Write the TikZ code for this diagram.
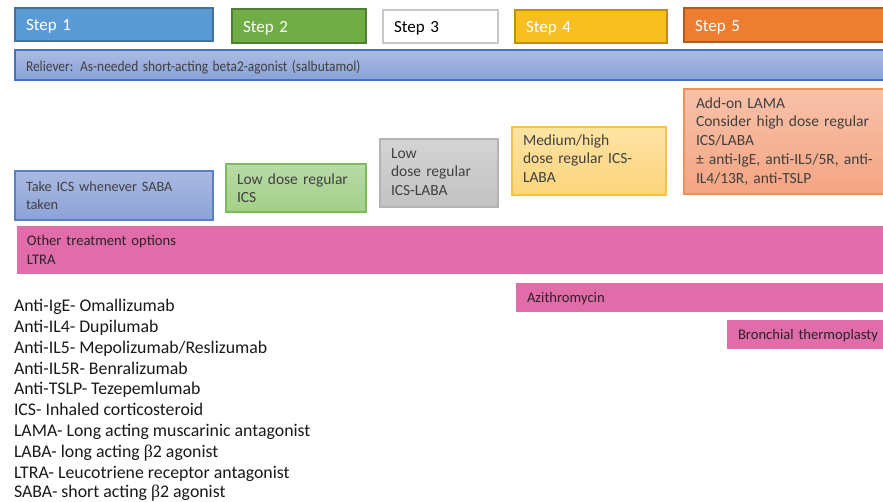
\documentclass[tikz,border=0pt]{standalone}
\usepackage{fontspec}
\setmainfont{Carlito}
\newfontfamily\greekfont{Liberation Serif}
\definecolor{txtgray}{HTML}{404040}
\definecolor{pinkfill}{HTML}{E06CAA}
\definecolor{pinktxt}{HTML}{2E2228}
\definecolor{sAfill}{HTML}{5B9BD5}\definecolor{sAline}{HTML}{41719C}
\definecolor{sBfill}{HTML}{70AD47}\definecolor{sBline}{HTML}{507E32}
\definecolor{sCline}{HTML}{C8C8C8}
\definecolor{sDfill}{HTML}{F7BF1F}\definecolor{sDline}{HTML}{BF9000}
\definecolor{sEfill}{HTML}{ED7D31}\definecolor{sEline}{HTML}{AE5A21}
\definecolor{relTop}{HTML}{ACBBE3}\definecolor{relBot}{HTML}{88A1D7}\definecolor{relLine}{HTML}{4472C4}
\definecolor{cAtop}{HTML}{AAB9E2}\definecolor{cAbot}{HTML}{8CA3D7}\definecolor{cAline}{HTML}{5A80C8}
\definecolor{cBtop}{HTML}{B9DBA6}\definecolor{cBbot}{HTML}{A2CF89}\definecolor{cBline}{HTML}{7DBA5A}
\definecolor{cCtop}{HTML}{D4D4D4}\definecolor{cCbot}{HTML}{C2C2C2}\definecolor{cCline}{HTML}{B4B4B4}
\definecolor{cDtop}{HTML}{FEE4A5}\definecolor{cDbot}{HTML}{FDD47A}\definecolor{cDline}{HTML}{F9C33C}
\definecolor{cEtop}{HTML}{F8C2AA}\definecolor{cEbot}{HTML}{F4A482}\definecolor{cEline}{HTML}{F08F57}
% extra depth on a last line, to lift a text block inside its box
\newcommand{\lowdepth}[1]{\rule[-#1]{0pt}{#1}}
\begin{document}
\begin{tikzpicture}[x=1pt,y=-1pt,
  every node/.style={inner sep=0pt, outer sep=0pt},
  box/.style={rectangle, anchor=north west, align=left, inner xsep=11pt,
    line width=1.2pt, font=\fontsize{15.5}{18.6}\selectfont, text=txtgray},
  stepbox/.style={box, font=\fontsize{17}{20}\selectfont, text=white,
    text height=12.5pt, text depth=0pt},
  pinkbox/.style={box, fill=pinkfill, draw=none, text=pinktxt},
  legend/.style={anchor=base west, font=\fontsize{17.8}{20}\selectfont, text=black!90}]
\path[use as bounding box] (0,0) rectangle (883,501);
\begin{scope}
\clip (0,0) rectangle (883,501);
% step headers
\node[stepbox, fill=sAfill, draw=sAline, minimum width=198pt, minimum height=33pt, text width=176pt] (s1) at (15,8) {Step 1};
\node[stepbox, fill=sBfill, draw=sBline, minimum width=134pt, minimum height=34pt, text width=112pt] (s2) at (232,9) {Step 2};
\node[stepbox, fill=white, draw=sCline, line width=1.6pt, text=black, minimum width=115pt, minimum height=33pt, text width=93pt] (s3) at (383,10) {Step 3};
\node[stepbox, fill=sDfill, draw=sDline, minimum width=152pt, minimum height=33pt, text width=130pt] (s4) at (515,10) {Step 4};
\node[stepbox, fill=sEfill, draw=sEline, minimum width=210pt, minimum height=34pt, text width=188pt] (s5) at (684,8) {Step 5};
% reliever bar
\node[box, top color=relTop, bottom color=relBot, draw=relLine, minimum width=880pt, minimum height=30pt, text width=858pt, font=\fontsize{15}{18}\selectfont, text height=12pt, text depth=0pt] (rel) at (15,50)
  {\scalebox{0.895}[1]{Reliever: As-needed short-acting beta2-agonist (salbutamol)}};
% controller boxes
\node[box, top color=cAtop, bottom color=cAbot, draw=cAline, minimum width=198pt, minimum height=49pt, text width=176pt, font=\fontsize{14.3}{18.3}\selectfont] (c1) at (15,171)
  {Take ICS whenever SABA\\taken};
\node[box, top color=cBtop, bottom color=cBbot, draw=cBline, minimum width=140pt, minimum height=48pt, text width=118pt] (c2) at (226,164)
  {Low dose regular\\ICS};
\node[box, top color=cCtop, bottom color=cCbot, draw=cCline, minimum width=118pt, minimum height=68pt, text width=96pt] (c3) at (380,139)
  {Low\\dose regular\\ICS-LABA\lowdepth{2.6pt}};
\node[box, top color=cDtop, bottom color=cDbot, draw=cDline, minimum width=154pt, minimum height=68pt, text width=132pt] (c4) at (512,127)
  {Medium/high\\dose regular ICS-\\LABA\lowdepth{4.8pt}};
\node[box, top color=cEtop, bottom color=cEbot, draw=cEline, minimum width=210pt, minimum height=105pt, text width=187pt, inner xsep=12pt] (c5) at (684,89)
  {Add-on LAMA\\Consider high dose regular\\ICS/LABA\\[1pt]± anti-IgE, anti-IL5/5R, anti-\\IL4/13R, anti-TSLP};
% other treatment options
\node[pinkbox, minimum width=880pt, minimum height=48pt, text width=860pt, inner xsep=10pt, font=\fontsize{14.6}{18.4}\selectfont] (o1) at (17,226)
  {Other treatment options\\LTRA};
\node[pinkbox, minimum width=380pt, minimum height=29pt, text width=358pt, font=\fontsize{14.6}{17}\selectfont, text height=9.6pt, text depth=0pt] (o2) at (516,283) {Azithromycin};
\node[pinkbox, minimum width=170pt, minimum height=29pt, text width=148pt, font=\fontsize{14.6}{17}\selectfont, text height=9.6pt, text depth=0pt] (o3) at (727,320) {Bronchial thermoplasty};
% abbreviations
\node[legend] (l1) at (14,311.6) {Anti-IgE- Omallizumab};
\node[legend] (l2) at (14,332.4) {Anti-IL4- Dupilumab};
\node[legend] (l3) at (14,353.2) {Anti-IL5- Mepolizumab/Reslizumab};
\node[legend] (l4) at (14,374.0) {Anti-IL5R- Benralizumab};
\node[legend] (l5) at (14,394.8) {Anti-TSLP- Tezepemlumab};
\node[legend] (l6) at (14,415.6) {ICS- Inhaled corticosteroid};
\node[legend] (l7) at (14,436.4) {LAMA- Long acting muscarinic antagonist};
\node[legend] (l8) at (14,457.2) {LABA- long acting {\greekfont β}2 agonist};
\node[legend] (l9) at (14,478.0) {LTRA- Leucotriene receptor antagonist};
\node[legend] (l10) at (14,497.3) {SABA- short acting {\greekfont β}2 agonist};
\end{scope}
\end{tikzpicture}
\end{document}
